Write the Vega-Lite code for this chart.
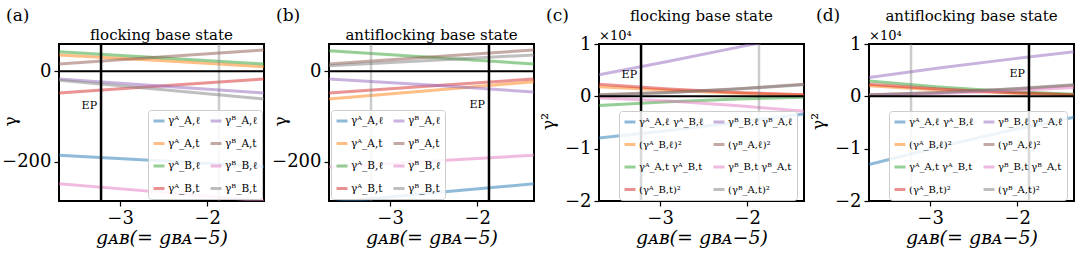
{
  "$schema": "https://vega.github.io/schema/vega-lite/v6.json",
  "padding": {"left": 0, "top": 6, "right": 0, "bottom": 0},
  "bounds": "flush",
  "spacing": 65,
  "config": {
    "font": "DejaVu Serif",
    "view": {"stroke": "black", "strokeWidth": 2},
    "text": {"font": "DejaVu Serif", "color": "black"},
    "axis": {"grid": false, "domain": false, "tickColor": "black", "tickSize": 5, "tickWidth": 1.2, "labelColor": "black", "labelFontSize": 18, "labelFont": "DejaVu Serif", "labelPadding": 3, "titleFontWeight": "normal", "titleColor": "black", "titleFontSize": 17, "titleFont": "DejaVu Serif"},
    "axisX": {"titlePadding": 1, "format": "d", "titleFontSize": 19, "titleFontStyle": "italic"},
    "legend": {"title": null, "columns": 2, "symbolType": "stroke", "symbolStrokeWidth": 3, "symbolSize": 120, "symbolOpacity": 0.5, "labelFontSize": 10.5, "labelFont": "DejaVu Serif", "labelColor": "black", "fillColor": "rgba(255,255,255,0.85)", "strokeColor": "#cccccc", "cornerRadius": 3, "padding": 4, "rowPadding": 9.5, "columnPadding": 3, "labelOffset": 2}
  },
  "resolve": {"scale": {"color": "independent", "x": "independent", "y": "independent"}, "legend": {"color": "independent"}},
  "datasets": {
    "a": [
      {"x": -3.7, "s": "γᴬ_A,ℓ", "y": -185}, {"x": -2.5, "s": "γᴬ_A,ℓ", "y": -198}, {"x": -1.35, "s": "γᴬ_A,ℓ", "y": -210},
      {"x": -3.7, "s": "γᴬ_A,t", "y": 36}, {"x": -2.5, "s": "γᴬ_A,t", "y": 23}, {"x": -1.35, "s": "γᴬ_A,t", "y": 10},
      {"x": -3.7, "s": "γᴬ_B,ℓ", "y": 43}, {"x": -2.5, "s": "γᴬ_B,ℓ", "y": 29}, {"x": -1.35, "s": "γᴬ_B,ℓ", "y": 16},
      {"x": -3.7, "s": "γᴬ_B,t", "y": -48}, {"x": -2.5, "s": "γᴬ_B,t", "y": -32}, {"x": -1.35, "s": "γᴬ_B,t", "y": -17},
      {"x": -3.7, "s": "γᴮ_A,ℓ", "y": -17}, {"x": -2.5, "s": "γᴮ_A,ℓ", "y": -33}, {"x": -1.35, "s": "γᴮ_A,ℓ", "y": -48},
      {"x": -3.7, "s": "γᴮ_A,t", "y": 16}, {"x": -2.5, "s": "γᴮ_A,t", "y": 32}, {"x": -1.35, "s": "γᴮ_A,t", "y": 47},
      {"x": -3.7, "s": "γᴮ_B,ℓ", "y": -248}, {"x": -2.5, "s": "γᴮ_B,ℓ", "y": -267}, {"x": -1.35, "s": "γᴮ_B,ℓ", "y": -286},
      {"x": -3.7, "s": "γᴮ_B,t", "y": -20}, {"x": -2.5, "s": "γᴮ_B,t", "y": -41}, {"x": -1.35, "s": "γᴮ_B,t", "y": -61}
    ],
    "b": [
      {"x": -3.7, "s": "γᴬ_A,ℓ", "y": -290}, {"x": -2.5, "s": "γᴬ_A,ℓ", "y": -268}, {"x": -1.35, "s": "γᴬ_A,ℓ", "y": -248},
      {"x": -3.7, "s": "γᴬ_A,t", "y": -61}, {"x": -2.5, "s": "γᴬ_A,t", "y": -42}, {"x": -1.35, "s": "γᴬ_A,t", "y": -23},
      {"x": -3.7, "s": "γᴬ_B,ℓ", "y": 45}, {"x": -2.5, "s": "γᴬ_B,ℓ", "y": 30}, {"x": -1.35, "s": "γᴬ_B,ℓ", "y": 16},
      {"x": -3.7, "s": "γᴬ_B,t", "y": -48}, {"x": -2.5, "s": "γᴬ_B,t", "y": -32}, {"x": -1.35, "s": "γᴬ_B,t", "y": -17},
      {"x": -3.7, "s": "γᴮ_A,ℓ", "y": -17}, {"x": -2.5, "s": "γᴮ_A,ℓ", "y": -31}, {"x": -1.35, "s": "γᴮ_A,ℓ", "y": -46},
      {"x": -3.7, "s": "γᴮ_A,t", "y": 16}, {"x": -2.5, "s": "γᴮ_A,t", "y": 32}, {"x": -1.35, "s": "γᴮ_A,t", "y": 47},
      {"x": -3.7, "s": "γᴮ_B,ℓ", "y": -211}, {"x": -2.5, "s": "γᴮ_B,ℓ", "y": -198}, {"x": -1.35, "s": "γᴮ_B,ℓ", "y": -185},
      {"x": -3.7, "s": "γᴮ_B,t", "y": 12}, {"x": -2.5, "s": "γᴮ_B,t", "y": 24}, {"x": -1.35, "s": "γᴮ_B,t", "y": 36}
    ],
    "c": [
      {"x": -3.7, "s": "γᴬ_A,ℓ γᴬ_B,ℓ", "y": -0.796}, {"x": -2.9, "s": "γᴬ_A,ℓ γᴬ_B,ℓ", "y": -0.654}, {"x": -2.1, "s": "γᴬ_A,ℓ γᴬ_B,ℓ", "y": -0.497}, {"x": -1.35, "s": "γᴬ_A,ℓ γᴬ_B,ℓ", "y": -0.336},
      {"x": -3.7, "s": "(γᴬ_B,ℓ)²", "y": 0.185}, {"x": -2.9, "s": "(γᴬ_B,ℓ)²", "y": 0.114}, {"x": -2.1, "s": "(γᴬ_B,ℓ)²", "y": 0.061}, {"x": -1.35, "s": "(γᴬ_B,ℓ)²", "y": 0.026},
      {"x": -3.7, "s": "γᴬ_A,t γᴬ_B,t", "y": -0.173}, {"x": -2.9, "s": "γᴬ_A,t γᴬ_B,t", "y": -0.102}, {"x": -2.1, "s": "γᴬ_A,t γᴬ_B,t", "y": -0.049}, {"x": -1.35, "s": "γᴬ_A,t γᴬ_B,t", "y": -0.017},
      {"x": -3.7, "s": "(γᴬ_B,t)²", "y": 0.230}, {"x": -2.9, "s": "(γᴬ_B,t)²", "y": 0.141}, {"x": -2.1, "s": "(γᴬ_B,t)²", "y": 0.072}, {"x": -1.35, "s": "(γᴬ_B,t)²", "y": 0.029},
      {"x": -3.7, "s": "γᴮ_B,ℓ γᴮ_A,ℓ", "y": 0.41}, {"x": -2.9, "s": "γᴮ_B,ℓ γᴮ_A,ℓ", "y": 0.67}, {"x": -2.1, "s": "γᴮ_B,ℓ γᴮ_A,ℓ", "y": 0.94}, {"x": -1.35, "s": "γᴮ_B,ℓ γᴮ_A,ℓ", "y": 1.19},
      {"x": -3.7, "s": "(γᴮ_A,ℓ)²", "y": 0.029}, {"x": -2.9, "s": "(γᴮ_A,ℓ)²", "y": 0.076}, {"x": -2.1, "s": "(γᴮ_A,ℓ)²", "y": 0.145}, {"x": -1.35, "s": "(γᴮ_A,ℓ)²", "y": 0.230},
      {"x": -3.7, "s": "γᴮ_B,t γᴮ_A,t", "y": -0.032}, {"x": -2.9, "s": "γᴮ_B,t γᴮ_A,t", "y": -0.090}, {"x": -2.1, "s": "γᴮ_B,t γᴮ_A,t", "y": -0.178}, {"x": -1.35, "s": "γᴮ_B,t γᴮ_A,t", "y": -0.287},
      {"x": -3.7, "s": "(γᴮ_A,t)²", "y": 0.026}, {"x": -2.9, "s": "(γᴮ_A,t)²", "y": 0.070}, {"x": -2.1, "s": "(γᴮ_A,t)²", "y": 0.138}, {"x": -1.35, "s": "(γᴮ_A,t)²", "y": 0.221}
    ],
    "d": [
      {"x": -3.7, "s": "γᴬ_A,ℓ γᴬ_B,ℓ", "y": -1.305}, {"x": -2.9, "s": "γᴬ_A,ℓ γᴬ_B,ℓ", "y": -0.968}, {"x": -2.1, "s": "γᴬ_A,ℓ γᴬ_B,ℓ", "y": -0.659}, {"x": -1.35, "s": "γᴬ_A,ℓ γᴬ_B,ℓ", "y": -0.397},
      {"x": -3.7, "s": "(γᴬ_B,ℓ)²", "y": 0.203}, {"x": -2.9, "s": "(γᴬ_B,ℓ)²", "y": 0.123}, {"x": -2.1, "s": "(γᴬ_B,ℓ)²", "y": 0.064}, {"x": -1.35, "s": "(γᴬ_B,ℓ)²", "y": 0.026},
      {"x": -3.7, "s": "γᴬ_A,t γᴬ_B,t", "y": 0.293}, {"x": -2.9, "s": "γᴬ_A,t γᴬ_B,t", "y": 0.180}, {"x": -2.1, "s": "γᴬ_A,t γᴬ_B,t", "y": 0.094}, {"x": -1.35, "s": "γᴬ_A,t γᴬ_B,t", "y": 0.039},
      {"x": -3.7, "s": "(γᴬ_B,t)²", "y": 0.230}, {"x": -2.9, "s": "(γᴬ_B,t)²", "y": 0.141}, {"x": -2.1, "s": "(γᴬ_B,t)²", "y": 0.072}, {"x": -1.35, "s": "(γᴬ_B,t)²", "y": 0.029},
      {"x": -3.7, "s": "γᴮ_B,ℓ γᴮ_A,ℓ", "y": 0.359}, {"x": -2.9, "s": "γᴮ_B,ℓ γᴮ_A,ℓ", "y": 0.540}, {"x": -2.1, "s": "γᴮ_B,ℓ γᴮ_A,ℓ", "y": 0.706}, {"x": -1.35, "s": "γᴮ_B,ℓ γᴮ_A,ℓ", "y": 0.851},
      {"x": -3.7, "s": "(γᴮ_A,ℓ)²", "y": 0.029}, {"x": -2.9, "s": "(γᴮ_A,ℓ)²", "y": 0.071}, {"x": -2.1, "s": "(γᴮ_A,ℓ)²", "y": 0.133}, {"x": -1.35, "s": "(γᴮ_A,ℓ)²", "y": 0.212},
      {"x": -3.7, "s": "γᴮ_B,t γᴮ_A,t", "y": 0.019}, {"x": -2.9, "s": "γᴮ_B,t γᴮ_A,t", "y": 0.054}, {"x": -2.1, "s": "γᴮ_B,t γᴮ_A,t", "y": 0.105}, {"x": -1.35, "s": "γᴮ_B,t γᴮ_A,t", "y": 0.169},
      {"x": -3.7, "s": "(γᴮ_A,t)²", "y": 0.026}, {"x": -2.9, "s": "(γᴮ_A,t)²", "y": 0.070}, {"x": -2.1, "s": "(γᴮ_A,t)²", "y": 0.138}, {"x": -1.35, "s": "(γᴮ_A,t)²", "y": 0.221}
    ]
  },
  "hconcat": [
    {
      "width": 205, "height": 157,
      "layer": [
        {"data": {"name": "a"}, "mark": {"type": "line", "clip": true, "strokeWidth": 3, "opacity": 0.5},
         "encoding": {
           "x": {"field": "x", "type": "quantitative", "scale": {"domain": [-3.7, -1.35], "nice": false, "zero": false}, "axis": {"values": [-3, -2], "title": "gᴀʙ(= gʙᴀ−5)"}},
           "y": {"field": "y", "type": "quantitative", "scale": {"domain": [-286, 60], "nice": false, "zero": false}, "axis": {"values": [-200, 0], "title": "γ", "titleX": -40, "titleY": 77}},
           "color": {"field": "s", "type": "nominal", "scale": {"domain": ["γᴬ_A,ℓ", "γᴬ_A,t", "γᴬ_B,ℓ", "γᴬ_B,t", "γᴮ_A,ℓ", "γᴮ_A,t", "γᴮ_B,ℓ", "γᴮ_B,t"], "range": ["#1f77b4", "#ff7f0e", "#2ca02c", "#d62728", "#9467bd", "#8c564b", "#e377c2", "#7f7f7f"]}, "legend": {"orient": "bottom-right", "offset": 2}}
         }},
        {"data": {"values": [{}]}, "mark": {"type": "rule", "color": "#7f7f7f", "strokeWidth": 2.5, "opacity": 0.4}, "encoding": {"x": {"datum": -1.866}}},
        {"data": {"values": [{}]}, "mark": {"type": "rule", "color": "black", "strokeWidth": 2.5}, "encoding": {"x": {"datum": -3.218}}},
        {"data": {"values": [{}]}, "mark": {"type": "rule", "color": "black", "strokeWidth": 2}, "encoding": {"y": {"datum": 0}}},
        {"data": {"values": [{}]}, "mark": {"type": "text", "text": "EP", "align": "right", "dx": -4, "fontSize": 11}, "encoding": {"x": {"datum": -3.218}, "y": {"datum": -76}}},
        {"data": {"values": [{}]}, "mark": {"type": "text", "text": "flocking base state", "align": "center", "baseline": "middle", "fontSize": 15}, "encoding": {"x": {"datum": -2.525}, "y": {"datum": 80}}},
        {"data": {"values": [{}]}, "mark": {"type": "text", "text": "(a)", "align": "left", "baseline": "middle", "fontSize": 17}, "encoding": {"x": {"datum": -4.307}, "y": {"datum": 121}}}
      ]
    },
    {
      "width": 205, "height": 157,
      "layer": [
        {"data": {"name": "b"}, "mark": {"type": "line", "clip": true, "strokeWidth": 3, "opacity": 0.5},
         "encoding": {
           "x": {"field": "x", "type": "quantitative", "scale": {"domain": [-3.7, -1.35], "nice": false, "zero": false}, "axis": {"values": [-3, -2], "title": "gᴀʙ(= gʙᴀ−5)"}},
           "y": {"field": "y", "type": "quantitative", "scale": {"domain": [-286, 60], "nice": false, "zero": false}, "axis": {"values": [-200, 0], "title": "γ", "titleX": -40, "titleY": 77}},
           "color": {"field": "s", "type": "nominal", "scale": {"domain": ["γᴬ_A,ℓ", "γᴬ_A,t", "γᴬ_B,ℓ", "γᴬ_B,t", "γᴮ_A,ℓ", "γᴮ_A,t", "γᴮ_B,ℓ", "γᴮ_B,t"], "range": ["#1f77b4", "#ff7f0e", "#2ca02c", "#d62728", "#9467bd", "#8c564b", "#e377c2", "#7f7f7f"]}, "legend": {"orient": "bottom-left", "offset": 2}}
         }},
        {"data": {"values": [{}]}, "mark": {"type": "rule", "color": "#7f7f7f", "strokeWidth": 2.5, "opacity": 0.4}, "encoding": {"x": {"datum": -3.218}}},
        {"data": {"values": [{}]}, "mark": {"type": "rule", "color": "black", "strokeWidth": 2.5}, "encoding": {"x": {"datum": -1.866}}},
        {"data": {"values": [{}]}, "mark": {"type": "rule", "color": "black", "strokeWidth": 2}, "encoding": {"y": {"datum": 0}}},
        {"data": {"values": [{}]}, "mark": {"type": "text", "text": "EP", "align": "right", "dx": -4, "fontSize": 11}, "encoding": {"x": {"datum": -1.866}, "y": {"datum": -75}}},
        {"data": {"values": [{}]}, "mark": {"type": "text", "text": "antiflocking base state", "align": "center", "baseline": "middle", "fontSize": 15}, "encoding": {"x": {"datum": -2.525}, "y": {"datum": 80}}},
        {"data": {"values": [{}]}, "mark": {"type": "text", "text": "(b)", "align": "left", "baseline": "middle", "fontSize": 17}, "encoding": {"x": {"datum": -4.307}, "y": {"datum": 121}}}
      ]
    },
    {
      "width": 205, "height": 157,
      "layer": [
        {"data": {"name": "c"}, "mark": {"type": "line", "clip": true, "strokeWidth": 3, "opacity": 0.5},
         "encoding": {
           "x": {"field": "x", "type": "quantitative", "scale": {"domain": [-3.7, -1.35], "nice": false, "zero": false}, "axis": {"values": [-3, -2], "title": "gᴀʙ(= gʙᴀ−5)"}},
           "y": {"field": "y", "type": "quantitative", "scale": {"domain": [-2, 1], "nice": false, "zero": false}, "axis": {"values": [-2, -1, 0, 1], "format": "d", "title": "γ²", "titleX": -42, "titleY": 77}},
           "color": {"field": "s", "type": "nominal", "scale": {"domain": ["γᴬ_A,ℓ γᴬ_B,ℓ", "(γᴬ_B,ℓ)²", "γᴬ_A,t γᴬ_B,t", "(γᴬ_B,t)²", "γᴮ_B,ℓ γᴮ_A,ℓ", "(γᴮ_A,ℓ)²", "γᴮ_B,t γᴮ_A,t", "(γᴮ_A,t)²"], "range": ["#1f77b4", "#ff7f0e", "#2ca02c", "#d62728", "#9467bd", "#8c564b", "#e377c2", "#7f7f7f"]}, "legend": {"orient": "none", "legendX": 20, "legendY": 67, "labelFontSize": 10}}
         }},
        {"data": {"values": [{}]}, "mark": {"type": "rule", "color": "#7f7f7f", "strokeWidth": 2.5, "opacity": 0.4}, "encoding": {"x": {"datum": -1.866}}},
        {"data": {"values": [{}]}, "mark": {"type": "rule", "color": "black", "strokeWidth": 2.5}, "encoding": {"x": {"datum": -3.218}}},
        {"data": {"values": [{}]}, "mark": {"type": "rule", "color": "black", "strokeWidth": 2}, "encoding": {"y": {"datum": 0}}},
        {"data": {"values": [{}]}, "mark": {"type": "text", "text": "EP", "align": "right", "dx": -4, "fontSize": 11}, "encoding": {"x": {"datum": -3.218}, "y": {"datum": 0.41}}},
        {"data": {"values": [{}]}, "mark": {"type": "text", "text": "×10⁴", "align": "left", "baseline": "middle", "fontSize": 13}, "encoding": {"x": {"datum": -3.7}, "y": {"datum": 1.15}}},
        {"data": {"values": [{}]}, "mark": {"type": "text", "text": "flocking base state", "align": "center", "baseline": "middle", "fontSize": 15}, "encoding": {"x": {"datum": -2.525}, "y": {"datum": 1.535}}},
        {"data": {"values": [{}]}, "mark": {"type": "text", "text": "(c)", "align": "left", "baseline": "middle", "fontSize": 17}, "encoding": {"x": {"datum": -4.307}, "y": {"datum": 1.53}}}
      ]
    },
    {
      "width": 205, "height": 157,
      "layer": [
        {"data": {"name": "d"}, "mark": {"type": "line", "clip": true, "strokeWidth": 3, "opacity": 0.5},
         "encoding": {
           "x": {"field": "x", "type": "quantitative", "scale": {"domain": [-3.7, -1.35], "nice": false, "zero": false}, "axis": {"values": [-3, -2], "title": "gᴀʙ(= gʙᴀ−5)"}},
           "y": {"field": "y", "type": "quantitative", "scale": {"domain": [-2, 1], "nice": false, "zero": false}, "axis": {"values": [-2, -1, 0, 1], "format": "d", "title": "γ²", "titleX": -42, "titleY": 77}},
           "color": {"field": "s", "type": "nominal", "scale": {"domain": ["γᴬ_A,ℓ γᴬ_B,ℓ", "(γᴬ_B,ℓ)²", "γᴬ_A,t γᴬ_B,t", "(γᴬ_B,t)²", "γᴮ_B,ℓ γᴮ_A,ℓ", "(γᴮ_A,ℓ)²", "γᴮ_B,t γᴮ_A,t", "(γᴮ_A,t)²"], "range": ["#1f77b4", "#ff7f0e", "#2ca02c", "#d62728", "#9467bd", "#8c564b", "#e377c2", "#7f7f7f"]}, "legend": {"orient": "none", "legendX": 20, "legendY": 67, "labelFontSize": 10}}
         }},
        {"data": {"values": [{}]}, "mark": {"type": "rule", "color": "#7f7f7f", "strokeWidth": 2.5, "opacity": 0.4}, "encoding": {"x": {"datum": -3.218}}},
        {"data": {"values": [{}]}, "mark": {"type": "rule", "color": "black", "strokeWidth": 2.5}, "encoding": {"x": {"datum": -1.866}}},
        {"data": {"values": [{}]}, "mark": {"type": "rule", "color": "black", "strokeWidth": 2}, "encoding": {"y": {"datum": 0}}},
        {"data": {"values": [{}]}, "mark": {"type": "text", "text": "EP", "align": "right", "dx": -4, "fontSize": 11}, "encoding": {"x": {"datum": -1.866}, "y": {"datum": 0.43}}},
        {"data": {"values": [{}]}, "mark": {"type": "text", "text": "×10⁴", "align": "left", "baseline": "middle", "fontSize": 13}, "encoding": {"x": {"datum": -3.7}, "y": {"datum": 1.15}}},
        {"data": {"values": [{}]}, "mark": {"type": "text", "text": "antiflocking base state", "align": "center", "baseline": "middle", "fontSize": 15}, "encoding": {"x": {"datum": -2.525}, "y": {"datum": 1.535}}},
        {"data": {"values": [{}]}, "mark": {"type": "text", "text": "(d)", "align": "left", "baseline": "middle", "fontSize": 17}, "encoding": {"x": {"datum": -4.307}, "y": {"datum": 1.53}}}
      ]
    }
  ]
}
